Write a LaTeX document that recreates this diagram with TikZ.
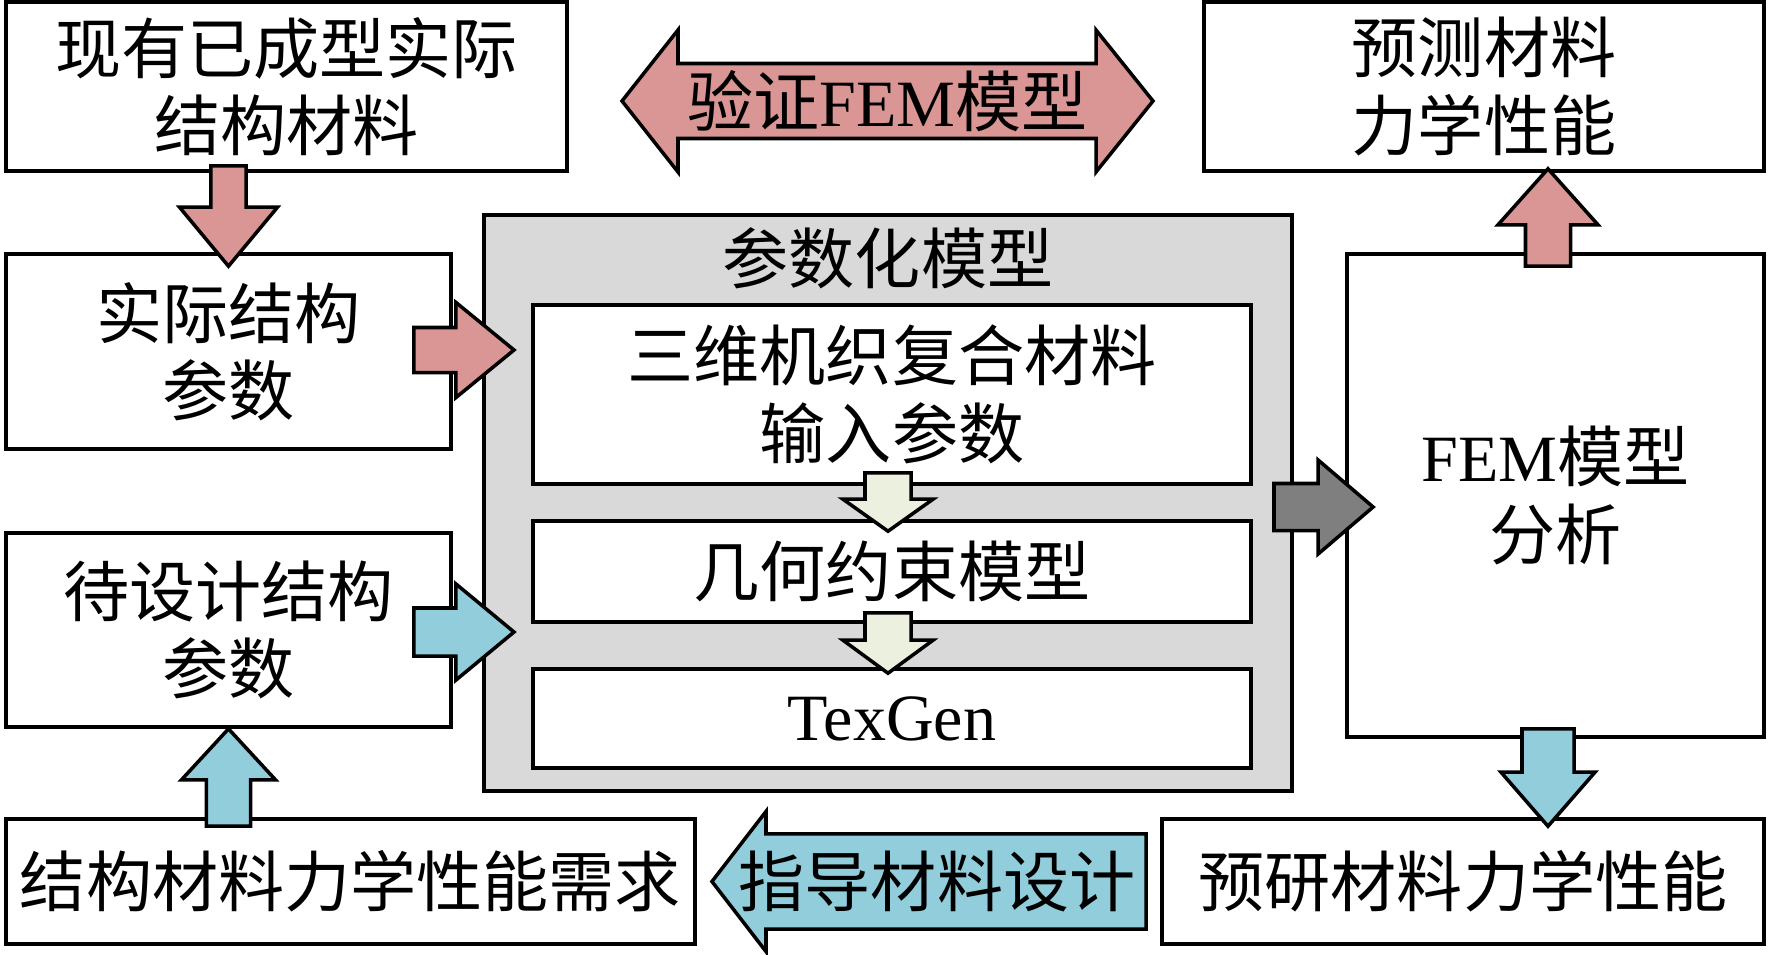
\documentclass[tikz,border=0pt]{standalone}
\usepackage{fontspec}
\setmainfont{Liberation Serif}
\newfontfamily\cjk{Noto Sans CJK SC}
\usetikzlibrary{calc}

\definecolor{redfill}{RGB}{217,150,148}
\definecolor{bluefill}{RGB}{146,205,220}
\definecolor{darkfill}{RGB}{127,127,127}
\definecolor{greenfill}{RGB}{235,241,222}
\definecolor{grayfill}{RGB}{217,217,217}

\tikzset{
  lbl/.style={align=center, inner sep=0pt, font=\cjk\fontsize{18.8}{22}\selectfont},
  box/.style={lbl, draw, line width=1pt, fill=white},
  fatline/.style={draw, line width=1pt, line join=miter},
}

% fill, start, end, shaft half width, head half width, head length
\newcommand{\fatarrow}[6]{%
  \path (#2) coordinate (fa-s) (#3) coordinate (fa-e);
  \path ($(fa-e)!#6!(fa-s)$) coordinate (fa-h);
  \draw[fatline, fill=#1] ($(fa-s)!#4!90:(fa-e)$) -- ($(fa-h)!#4!-90:(fa-s)$)
    -- ($(fa-h)!#5!-90:(fa-s)$) -- (fa-e) -- ($(fa-h)!#5!90:(fa-s)$)
    -- ($(fa-h)!#4!90:(fa-s)$) -- ($(fa-s)!#4!-90:(fa-e)$) -- cycle;}

\begin{document}
\begin{tikzpicture}[x=0.01cm, y=-0.01cm]
\useasboundingbox (0,0) rectangle (1772,954);

% left column
\node[box, minimum width=5.61cm, minimum height=1.69cm] (exist) at (286.5,86.5) {现有已成型实际\\结构材料};
\node[box, minimum width=4.45cm, minimum height=1.95cm] (actual) at (228.5,351.5) {实际结构\\参数};
\node[box, minimum width=4.45cm, minimum height=1.94cm] (design) at (228.5,630) {待设计结构\\参数};
\node[box, minimum width=6.89cm, minimum height=1.25cm] (need) at (350.5,881.5) {结构材料力学性能需求};

% parametric model
\node[box, fill=grayfill, minimum width=8.08cm, minimum height=5.76cm] (param) at (888,503) {};
\node[lbl] (ptitle) at ($(param.north)+(0,45)$) {参数化模型};
\node[box, minimum width=7.18cm, minimum height=1.79cm] (input) at (892,394.5) {三维机织复合材料\\输入参数};
\node[box, minimum width=7.18cm, minimum height=1.01cm] (geom) at (892,571.5) {几何约束模型};
\node[box, minimum width=7.18cm, minimum height=0.99cm] (texgen) at (892,718.5) {\rmfamily TexGen};

% right column
\node[box, minimum width=4.17cm, minimum height=4.83cm] (fem) at (1555.5,495.5) {{\rmfamily FEM}模型\\分析};
\node[box, minimum width=5.60cm, minimum height=1.69cm] (predict) at (1484,86.5) {预测材料\\力学性能};
\node[box, minimum width=6.02cm, minimum height=1.25cm] (preres) at (1463,881.5) {预研材料力学性能};

% block arrows
\fatarrow{redfill}{$(actual.north |- exist.south)+(0,-7)$}{$(actual.north)+(0,14)$}{0.175cm}{0.49cm}{0.59cm}
\fatarrow{redfill}{$(actual.east)+(-39,-1.5)$}{$(actual.east -| param.west)+(32,-1.5)$}{0.225cm}{0.475cm}{0.58cm}
\fatarrow{bluefill}{$(design.east)+(-39,2)$}{$(design.east -| param.west)+(32,2)$}{0.24cm}{0.48cm}{0.58cm}
\fatarrow{bluefill}{$(design.south |- need.north)+(0,9)$}{design.south}{0.22cm}{0.47cm}{0.51cm}
\fatarrow{greenfill}{$(input.south)+(-4,-13)$}{$(geom.north)+(-4,12)$}{0.23cm}{0.45cm}{0.32cm}
\fatarrow{greenfill}{$(geom.south)+(-4,-11)$}{$(texgen.north)+(-4,6)$}{0.23cm}{0.45cm}{0.33cm}
\fatarrow{darkfill}{$(param.east)+(-20,4)$}{$(fem.west |- param.east)+(28,4)$}{0.235cm}{0.47cm}{0.55cm}
\fatarrow{redfill}{$(fem.north)+(-7.5,14)$}{$(fem.north |- predict.south)+(-7.5,-4)$}{0.225cm}{0.50cm}{0.56cm}
\fatarrow{bluefill}{$(fem.south)+(-7.5,-10)$}{$(fem.south |- preres.north)+(-7.5,9)$}{0.26cm}{0.47cm}{0.54cm}

% validate arrow
\coordinate (verify) at (887.5,101);
\draw[fatline, fill=redfill] ($(verify)+(-265.5,0)$) -- ($(verify)+(-209.5,-71)$)
  -- ($(verify)+(-209.5,-37.5)$) -- ($(verify)+(208.5,-37.5)$) -- ($(verify)+(208.5,-71)$)
  -- ($(verify)+(265.5,0)$) -- ($(verify)+(208.5,71)$) -- ($(verify)+(208.5,37.5)$)
  -- ($(verify)+(-209.5,37.5)$) -- ($(verify)+(-209.5,71)$) -- cycle;
\node[lbl] (vtext) at (verify) {验证{\rmfamily FEM}模型};

% guide arrow
\fatarrow{bluefill}{$(preres.west)+(-14,0)$}{$(need.east)+(15,0)$}{0.475cm}{0.70cm}{0.54cm}
\node[lbl] (guide) at (937,881) {指导材料设计};
\end{tikzpicture}
\end{document}
